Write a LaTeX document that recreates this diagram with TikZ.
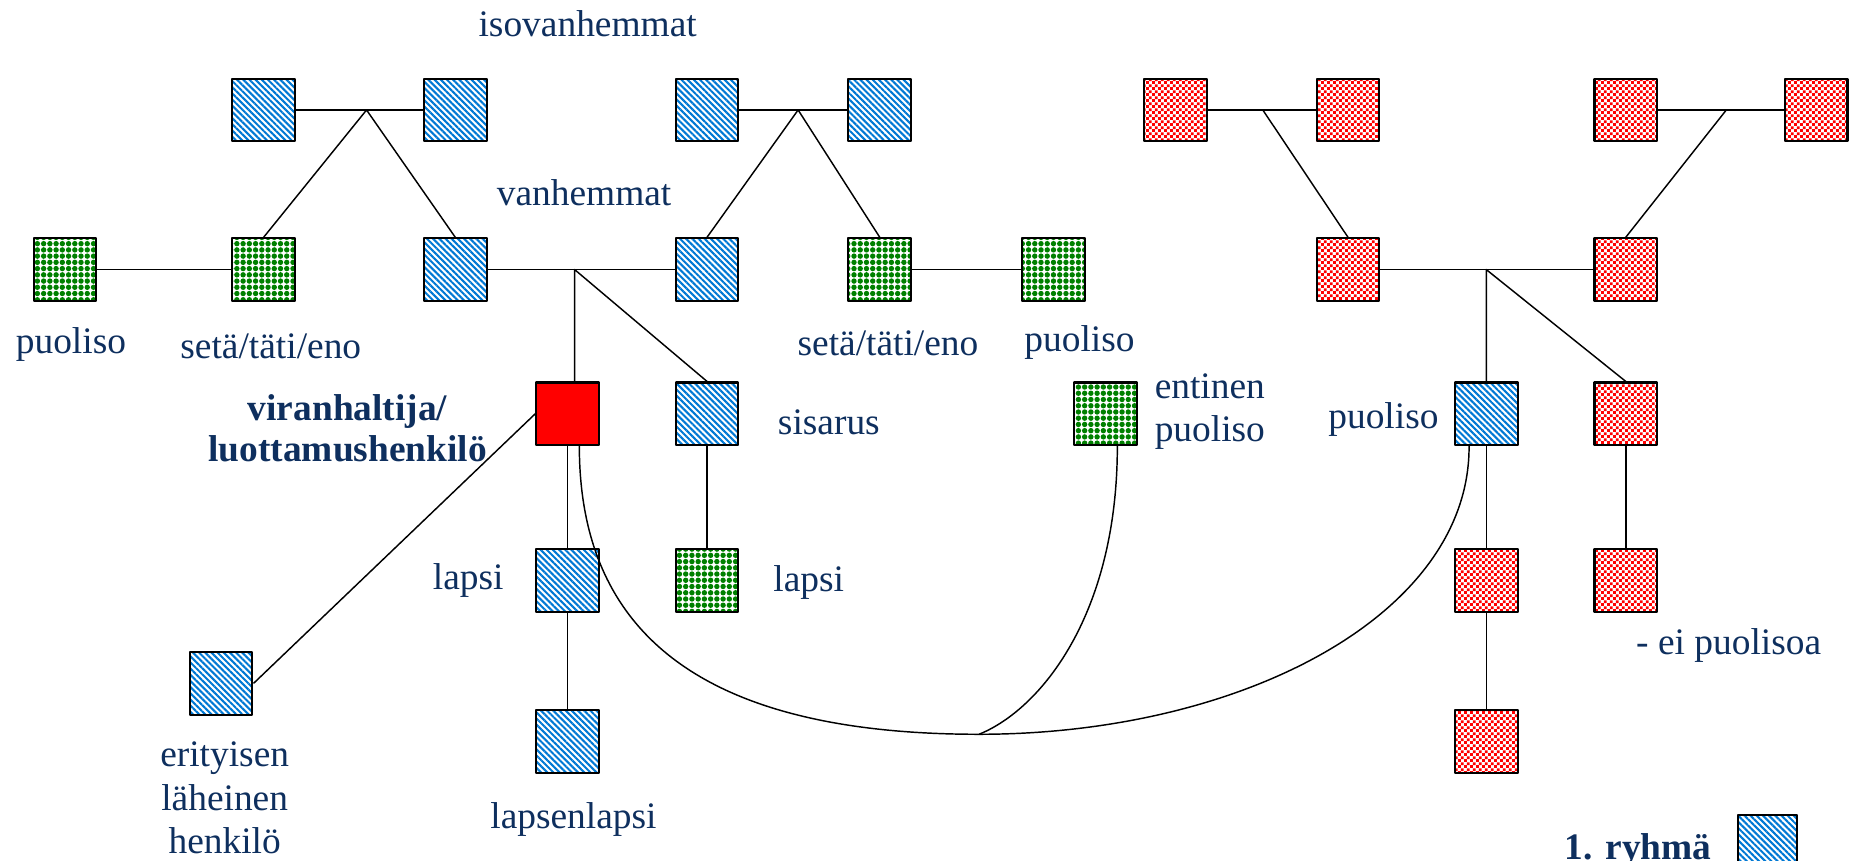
\documentclass[tikz,border=0pt]{standalone}
\usepackage{fontspec}
\setmainfont{Liberation Serif}
\usepackage{tikz}
\usetikzlibrary{patterns}
\usetikzlibrary{patterns.meta}
\definecolor{navy}{RGB}{14,47,94}
\definecolor{stripeblue}{RGB}{0,120,212}
\definecolor{dotgreen}{RGB}{0,128,0}
\tikzdeclarepattern{name=finecheck,type=uncolored,bounding box={(0,0) and (3pt,3pt)},tile size={(3pt,3pt)},
  code={\fill (0,0) rectangle (1.5pt,1.5pt); \fill (1.5pt,1.5pt) rectangle (3pt,3pt);}}

\begin{document}
\begin{tikzpicture}[x=0.2mm,y=-0.2mm,join=round,line width=.7pt,
  sq/.style={draw,line width=1pt,minimum size=1.06cm,inner sep=0pt},
  blu/.style={sq,pattern={Lines[angle=-45,distance=2.1pt,line width=1pt]},pattern color=stripeblue},
  grn/.style={sq,pattern={Dots[distance=3pt,radius=1.3pt]},pattern color=dotgreen},
  rd/.style={sq,pattern=finecheck,pattern color=red},
  lbl/.style={text=navy,font=\fontsize{18}{21}\selectfont,align=center,inner sep=0pt},
  blbl/.style={lbl,font=\fontsize{18}{20}\selectfont\bfseries}]
\useasboundingbox (0,0) rectangle (1568,728);
\node[blu] (ia1) at (223,93) {};
\node[blu] (ib1) at (385,93) {};
\node[blu] (ia2) at (598,93) {};
\node[blu] (ib2) at (744,93) {};
\node[rd] (ra1) at (994,93) {};
\node[rd] (rb1) at (1140,93) {};
\node[rd] (ra2) at (1375,93) {};
\node[rd] (rb2) at (1536,93) {};
\node[grn] (spo1) at (55,228) {};
\node[grn] (set1) at (223,228) {};
\node[blu] (dad) at (385,228) {};
\node[blu] (mom) at (598,228) {};
\node[grn] (set2) at (744,228) {};
\node[grn] (spo2) at (891,228) {};
\node[rd] (rdad) at (1140,228) {};
\node[rd] (rmom) at (1375,228) {};
\node[sq,fill=red] (ego) at (480,350) {};
\node[blu] (sis) at (598,350) {};
\node[grn] (ex) at (935,350) {};
\node[blu] (spouse) at (1257,350) {};
\node[rd] (rsib) at (1375,350) {};
\node[blu] (kid) at (480,491) {};
\node[grn] (niece) at (598,491) {};
\node[rd] (rkid1) at (1257,491) {};
\node[rd] (rkid2) at (1375,491) {};
\node[blu] (close) at (187,578) {};
\node[blu] (gkid) at (480,627) {};
\node[rd] (rgk) at (1257,627) {};
\node[blu,minimum size=1cm] (leg) at (1495,714) {};
\coordinate (j1) at (310,93);
\coordinate (j2) at (675,93);
\coordinate (j3) at (1068,93);
\coordinate (j4) at (1460,93);
\coordinate (j5) at (486,228);
\coordinate (j6) at (1257,228);
\coordinate (bend) at (828,621);
\draw (ia1) -- (ib1);
\draw (ia2) -- (ib2);
\draw (ra1) -- (rb1);
\draw (ra2) -- (rb2);
\draw (set1.north) -- (j1) -- (dad.north);
\draw (mom.north) -- (j2) -- (set2.north);
\draw (j3) -- (rdad.north);
\draw (j4) -- (rmom.north);
\draw (spo1) -- (set1);
\draw (dad) -- (mom);
\draw (set2) -- (spo2);
\draw (rdad) -- (rmom);
\draw (j5 |- ego.north) -- (j5) -- (sis.north);
\draw (spouse.north) -- (j6) -- (rsib.north);
\draw (ego) -- (kid) -- (gkid);
\draw (ego.west) -- (close.east);
\draw (sis) -- (niece);
\draw (spouse) -- (rkid1) -- (rgk);
\draw (rsib) -- (rkid2);
\draw (ego.-70) .. controls (490,540) and (600,621) .. (bend) .. controls (1050,621) and (1243,520) .. (spouse.-118);
\draw (ex.-70) .. controls (945,520) and (880,600) .. (bend);
\node[lbl] (tiso) at (497,20) {isovanhemmat};
\node[lbl] (tvan) at (494,163) {vanhemmat};
\node[lbl] (tspo1) at (60,291) {puoliso};
\node[lbl] (tset1) at (229,293) {setä/täti/eno};
\node[lbl] (tset2) at (751,290) {setä/täti/eno};
\node[lbl] (tspo2) at (913,290) {puoliso};
\node[blbl] (tego) at (294,362) {viranhaltija/\\luottamushenkilö};
\node[lbl] (tsis) at (701,357) {sisarus};
\node[lbl,align=left,anchor=west] (tex) at (976,348) {entinen\\puoliso};
\node[lbl] (tspouse) at (1170,355) {puoliso};
\node[lbl] (tkid) at (396,491) {lapsi};
\node[lbl] (tniece) at (684,493) {lapsi};
\node[lbl] (trkid) at (1462,546) {- ei puolisoa};
\node[lbl] (tclose) at (190,675) {erityisen\\läheinen\\henkilö};
\node[lbl] (tgkid) at (485,693) {lapsenlapsi};
\node[blbl,anchor=base east] (tleg) at (1448,727) {1. ryhmä};
\end{tikzpicture}
\end{document}
